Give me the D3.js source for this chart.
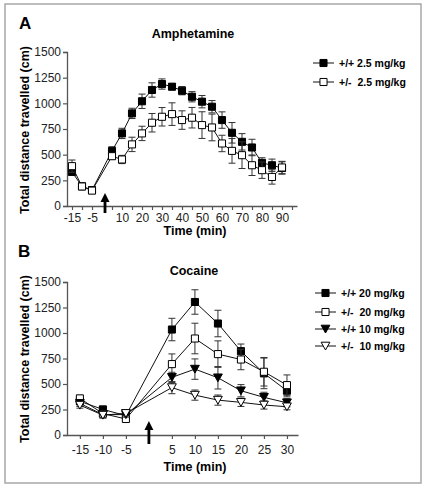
<!DOCTYPE html>
<html>
<head>
<meta charset="utf-8">
<script src="https://cdn.jsdelivr.net/npm/d3@7"></script>
<style>
html,body{margin:0;padding:0;background:#fff;}
svg{display:block;font-family:Arial,"Liberation Sans",sans-serif;}
</style>
</head>
<body>
<svg id="chart" width="426" height="488"></svg>
<script>
// ---------- Panel A: Amphetamine ----------
const ampTimes = [-15,-10,-5,5,10,15,20,25,30,35,40,45,50,55,60,65,70,75,80,85,90];
const ampWT    = [332,192,155,537,707,902,1020,1130,1188,1162,1123,1064,1016,967,837,713,625,570,420,397,370];
const ampWTerr = [30,20,20,40,50,50,70,70,50,30,40,50,60,60,80,100,80,80,50,60,60];
const ampHet   = [388,190,150,485,453,600,707,811,869,895,837,860,788,765,609,537,495,397,349,283,375];
const ampHetErr= [60,30,20,30,40,70,70,90,90,110,90,100,130,130,80,120,130,100,80,70,60];
const ampTickValues = [-15,-10,-5,5,10,15,20,25,30,35,40,45,50,55,60,65,70,75,80,85,90,95];
const ampTickLabels = [-15,-5,10,20,30,40,50,60,70,80,90];
const ampArrowTime = 1.5;
const ampLegend = ["+/+ 2.5 mg/kg","+/-  2.5 mg/kg"];

// ---------- Panel B: Cocaine ----------
const cocTimes = [-15,-10,-5,5,10,15,20,25,30];
const coc20WT     = [330,251,190,1034,1304,1093,822,604,434];
const coc20WTerr  = [30,30,25,110,120,130,70,150,60];
const coc20Het    = [359,210,157,695,946,793,740,620,489];
const coc20HetErr = [30,30,25,100,150,130,100,140,100];
const coc10WT     = [310,200,200,565,646,561,434,369,316];
const coc10WTerr  = [30,30,25,50,100,110,60,50,40];
const coc10Het    = [293,195,212,465,391,342,320,294,277];
const coc10HetErr = [30,30,25,60,50,50,40,40,30];
const cocTickValues = [-15,-10,-5,5,10,15,20,25,30];
const cocArrowTime = 0;
const cocLegend = ["+/+ 20 mg/kg","+/-  20 mg/kg","+/+ 10 mg/kg","+/-  10 mg/kg"];

const yTicks = [0,250,500,750,1000,1250,1500];

const svg = d3.select("#chart");

// outer frame
svg.append("rect").attr("x",5).attr("y",4).attr("width",416).attr("height",479)
  .attr("fill","none").attr("stroke","#a8a8a8").attr("stroke-width",1.5);

function symbolPath(kind){
  if(kind==="square") return d3.symbol().type(d3.symbolSquare).size(50)();
  // downward triangle
  return "M-4.4,-3.8L4.4,-3.8L0,4Z";
}

function drawPanel(cfg){
  const g = svg.append("g");
  const x = d3.scaleLinear().domain(cfg.xDomain).range(cfg.xRange);
  const y = d3.scaleLinear().domain([0,1500]).range(cfg.yRange);

  g.append("text").attr("x",cfg.letterPos[0]).attr("y",cfg.letterPos[1])
    .attr("font-size",17).attr("font-weight","bold").text(cfg.letter);
  g.append("text").attr("x",cfg.titlePos[0]).attr("y",cfg.titlePos[1])
    .attr("text-anchor","middle").attr("font-size",12.5).attr("font-weight","bold").text(cfg.title);

  const ya = g.append("g").attr("transform",`translate(${cfg.xRange[0]},0)`)
    .call(d3.axisLeft(y).tickValues(yTicks).tickSize(4).tickPadding(2).tickFormat(d3.format("d")));
  ya.selectAll("text").attr("font-size",12).attr("fill","#222").attr("font-family","Arial,'Liberation Sans',sans-serif");
  ya.select(".domain").attr("stroke","#555").attr("stroke-width",1.3);
  ya.selectAll(".tick line").attr("stroke","#555").attr("stroke-width",1.2);

  const xa = g.append("g").attr("transform",`translate(0,${cfg.yRange[0]})`)
    .call(d3.axisBottom(x).tickValues(cfg.tickValues).tickSize(4).tickPadding(cfg.xPad)
      .tickSizeOuter(0)
      .tickFormat(d => cfg.tickLabels.includes(d) ? String(d) : ""));
  xa.selectAll("text").attr("font-size",12).attr("fill","#222").attr("font-family","Arial,'Liberation Sans',sans-serif");
  xa.select(".domain").attr("stroke","#555").attr("stroke-width",1.3);
  xa.selectAll(".tick line").attr("stroke","#555").attr("stroke-width",1.2);

  g.append("text").attr("x",cfg.xTitlePos[0]).attr("y",cfg.xTitlePos[1])
    .attr("text-anchor","middle").attr("font-size",12.5).attr("font-weight","bold").text("Time (min)");
  g.append("text").attr("transform",`translate(${cfg.yTitlePos[0]},${cfg.yTitlePos[1]}) rotate(-90)`)
    .attr("text-anchor","middle").attr("font-size",12.5).attr("font-weight","bold").text("Total distance travelled (cm)");

  // arrow
  const ax = x(cfg.arrowTime);
  g.append("line").attr("x1",ax).attr("x2",ax).attr("y1",cfg.arrowY[0]+7).attr("y2",cfg.arrowY[1])
    .attr("stroke","#000").attr("stroke-width",2.8);
  g.append("path").attr("d",`M${ax},${cfg.arrowY[0]}L${ax-4.5},${cfg.arrowY[0]+9}L${ax+4.5},${cfg.arrowY[0]+9}Z`).attr("fill","#000");

  cfg.series.forEach(s => {
    const pts = cfg.times.map((t,i)=>({t, v:s.values[i], e:s.err[i]}));
    const sg = g.append("g");
    pts.forEach(p=>{
      const cx = x(p.t), y1 = y(p.v+p.e), y2 = y(Math.max(0,p.v-p.e));
      sg.append("line").attr("x1",cx).attr("x2",cx).attr("y1",y1).attr("y2",y2).attr("stroke","#333").attr("stroke-width",1);
      sg.append("line").attr("x1",cx-3.5).attr("x2",cx+3.5).attr("y1",y1).attr("y2",y1).attr("stroke","#333").attr("stroke-width",1);
      sg.append("line").attr("x1",cx-3.5).attr("x2",cx+3.5).attr("y1",y2).attr("y2",y2).attr("stroke","#333").attr("stroke-width",1);
    });
    sg.append("path").datum(pts)
      .attr("d",d3.line().x(d=>x(d.t)).y(d=>y(d.v)))
      .attr("fill","none").attr("stroke","#111").attr("stroke-width",1);
    sg.selectAll(".m").data(pts).join("path")
      .attr("transform",d=>`translate(${x(d.t)},${y(d.v)})`)
      .attr("d",symbolPath(s.shape))
      .attr("fill",s.filled?"#000":"#fff").attr("stroke","#000").attr("stroke-width",1);
  });

  cfg.series.forEach((s,i)=>{
    const ly = cfg.legendY[i];
    const lg = g.append("g");
    lg.append("line").attr("x1",cfg.legendX).attr("x2",cfg.legendX+21).attr("y1",ly).attr("y2",ly)
      .attr("stroke","#111").attr("stroke-width",1);
    lg.append("path").attr("transform",`translate(${cfg.legendX+10.5},${ly})`)
      .attr("d",symbolPath(s.shape))
      .attr("fill",s.filled?"#000":"#fff").attr("stroke","#000").attr("stroke-width",1);
    lg.append("text").attr("x",cfg.legendX+26).attr("y",ly+3.8)
      .attr("font-size",10.5).attr("font-weight","bold").attr("xml:space","preserve")
      .style("white-space","pre").text(cfg.legendLabels[i]);
  });
}

drawPanel({
  letter:"A", letterPos:[19,29], title:"Amphetamine", titlePos:[193,38],
  xDomain:[-17.5,97.5], xRange:[67,297], yRange:[206,52],
  tickValues:ampTickValues, tickLabels:ampTickLabels, xPad:3,
  xTitlePos:[195,235], yTitlePos:[29,130],
  arrowTime:ampArrowTime, arrowY:[193,213],
  times:ampTimes,
  series:[
    {values:ampWT, err:ampWTerr, shape:"square", filled:true},
    {values:ampHet, err:ampHetErr, shape:"square", filled:false}
  ],
  legendX:313, legendY:[63,82], legendLabels:ampLegend
});

drawPanel({
  letter:"B", letterPos:[18,257], title:"Cocaine", titlePos:[194,275],
  xDomain:[-17.8,32.4], xRange:[67,298], yRange:[435,282],
  tickValues:cocTickValues, tickLabels:cocTickValues, xPad:6,
  xTitlePos:[195,471], yTitlePos:[29,359],
  arrowTime:cocArrowTime, arrowY:[421,444],
  times:cocTimes,
  series:[
    {values:coc20WT, err:coc20WTerr, shape:"square", filled:true},
    {values:coc20Het, err:coc20HetErr, shape:"square", filled:false},
    {values:coc10WT, err:coc10WTerr, shape:"triangle", filled:true},
    {values:coc10Het, err:coc10HetErr, shape:"triangle", filled:false}
  ],
  legendX:315, legendY:[293,312,329,346], legendLabels:cocLegend
});
</script>
</body>
</html>
